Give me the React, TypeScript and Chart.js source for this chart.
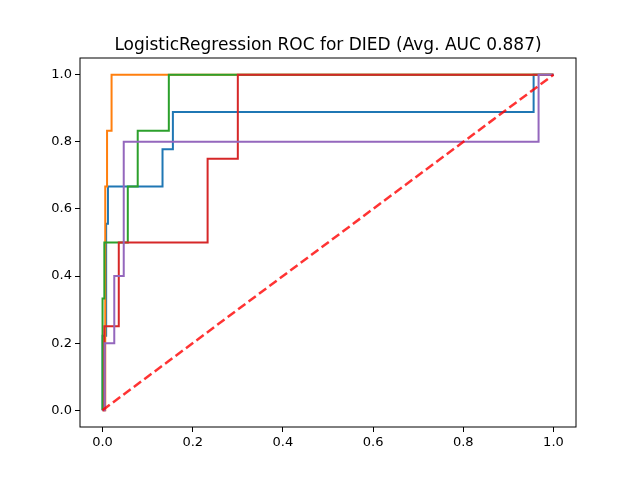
import { useEffect, useRef } from "react";
import Chart from "chart.js/auto";
import type { Plugin } from "chart.js";

const tickValues = [0, 0.2, 0.4, 0.6, 0.8, 1.0];

const blueFpr = [0, 0, 0.008, 0.008, 0.012, 0.012, 0.133, 0.133, 0.156, 0.156, 0.956, 0.956, 1];
const blueTpr = [0, 0.222, 0.222, 0.556, 0.556, 0.667, 0.667, 0.778, 0.778, 0.889, 0.889, 1, 1];

const orangeFpr = [0, 0.006, 0.006, 0.01, 0.01, 0.02, 0.02, 1];
const orangeTpr = [0, 0, 0.667, 0.667, 0.833, 0.833, 1, 1];

const greenFpr = [0, 0, 0.004, 0.004, 0.056, 0.056, 0.078, 0.078, 0.147, 0.147, 1];
const greenTpr = [0, 0.333, 0.333, 0.5, 0.5, 0.667, 0.667, 0.833, 0.833, 1, 1];

const redFpr = [0, 0.004, 0.004, 0.036, 0.036, 0.233, 0.233, 0.3, 0.3, 1];
const redTpr = [0, 0, 0.25, 0.25, 0.5, 0.5, 0.75, 0.75, 1, 1];

const purpleFpr = [0, 0.005, 0.005, 0.026, 0.026, 0.047, 0.047, 0.967, 0.967, 1];
const purpleTpr = [0, 0, 0.2, 0.2, 0.4, 0.4, 0.8, 0.8, 1, 1];

const chanceFpr = [0, 1];
const chanceTpr = [0, 1];

const titleText = "LogisticRegression ROC for DIED (Avg. AUC 0.887)";

const toPoints = (xs: number[], ys: number[]) => xs.map((x, i) => ({ x, y: ys[i] }));

const frame: Plugin<"scatter"> = {
  id: "frame",
  afterDraw(chart) {
    const { ctx, chartArea: a } = chart;
    ctx.save();
    ctx.strokeStyle = "#000";
    ctx.lineWidth = 1;
    ctx.strokeRect(a.left, a.top, a.right - a.left, a.bottom - a.top);
    ctx.fillStyle = "#000";
    ctx.font = "17px 'DejaVu Sans'";
    ctx.textAlign = "center";
    ctx.textBaseline = "alphabetic";
    ctx.fillText(titleText, (a.left + a.right) / 2, a.top - 8);
    ctx.restore();
  },
};

export default function App() {
  const ref = useRef<HTMLCanvasElement | null>(null);

  useEffect(() => {
    document.body.style.margin = "0";
    const canvas = ref.current;
    if (!canvas) return;
    // later lines sit on top, as in matplotlib
    let order = 10;
    const line = (xs: number[], ys: number[], color: string) => ({
      data: toPoints(xs, ys),
      borderColor: color,
      borderWidth: 2,
      pointRadius: 0,
      showLine: true,
      tension: 0,
      order: order--,
    });
    const axis = (size: (s: any) => void) => ({
      type: "linear" as const,
      min: -0.05,
      max: 1.05,
      afterBuildTicks: (s: any) => {
        s.ticks = tickValues.map((value) => ({ value }));
      },
      afterFit: size,
      grid: { display: true, drawOnChartArea: false, drawTicks: true, tickLength: 5, color: "#000" },
      border: { display: false },
      ticks: {
        color: "#000",
        font: { family: "'DejaVu Sans'", size: 13 },
        padding: 3,
        callback: (v: any) => Number(v).toFixed(1),
      },
    });
    const chart = new Chart(canvas, {
      type: "scatter",
      data: {
        datasets: [
          line(blueFpr, blueTpr, "#1f77b4"),
          line(orangeFpr, orangeTpr, "#ff7f0e"),
          line(greenFpr, greenTpr, "#2ca02c"),
          line(redFpr, redTpr, "#d62728"),
          line(purpleFpr, purpleTpr, "#9467bd"),
          { ...line(chanceFpr, chanceTpr, "rgba(255,0,0,0.8)"), borderWidth: 2.5, borderDash: [9, 4] },
        ],
      },
      plugins: [frame],
      options: {
        animation: false,
        responsive: false,
        layout: { padding: { left: 0, right: 64, top: 58, bottom: 0 } },
        plugins: { legend: { display: false }, tooltip: { enabled: false } },
        scales: {
          x: axis((s: any) => { s.height = 53; }),
          y: axis((s: any) => { s.width = 80; }),
        },
      },
    });
    return () => chart.destroy();
  }, []);

  return <canvas ref={ref} width={640} height={480} />;
}
